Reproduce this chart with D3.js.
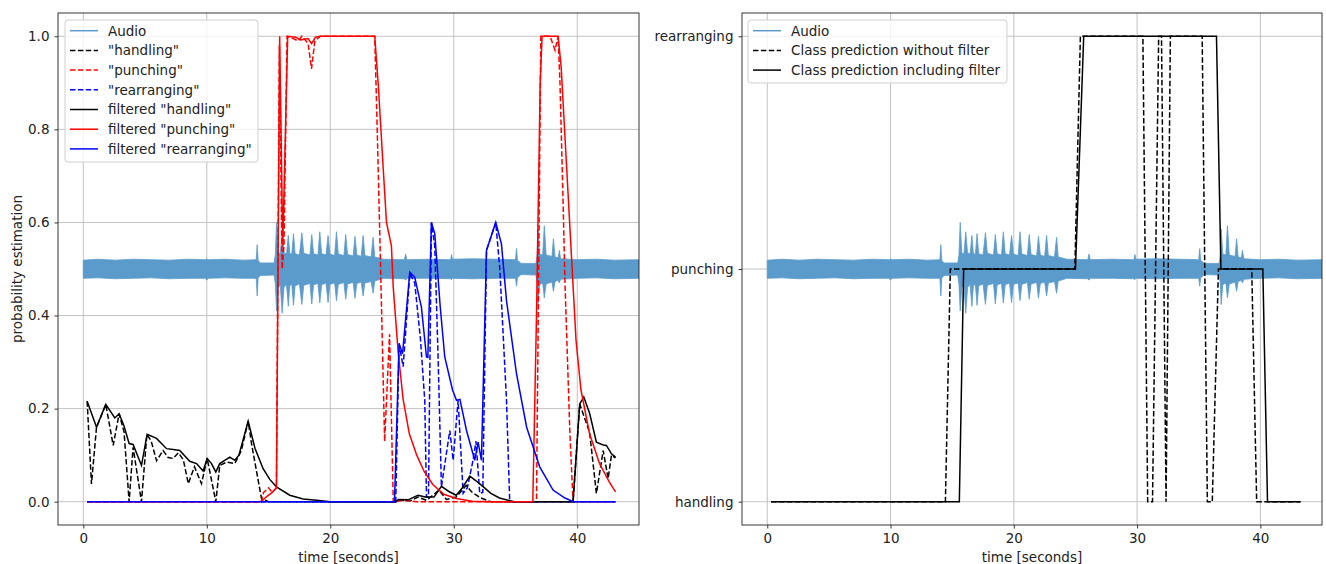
<!DOCTYPE html>
<html>
<head>
<meta charset="utf-8">
<script src="https://cdn.jsdelivr.net/npm/d3@7"></script>
<style>
  body { margin: 0; background: #fff; }
  svg { display: block; font-family: "DejaVu Sans", sans-serif; }
  .axis text { font-family: "DejaVu Sans", sans-serif; font-size: 13.5px; fill: #222; }
  .axis path, .axis line { stroke: #222; stroke-width: 0.9; }
  .grid line { stroke: #bcbcbc; stroke-width: 0.9; }
  .axis-title { font-size: 13.5px; fill: #222; }
  .legend-item { font-size: 13.5px; fill: #222; }
</style>
</head>
<body>
<svg id="chart" width="1326" height="564"></svg>
<script>
// ---- data ----
// audio envelope: [time, upper offset, lower offset] around the centre line
const audioEnvelope = [
  [0.0, 0.019, -0.020], [1.2, 0.021, -0.019], [2.6, 0.019, -0.021], [4.0, 0.021, -0.020],
  [5.5, 0.020, -0.019], [7.0, 0.019, -0.021], [8.5, 0.021, -0.020], [9.9, 0.020, -0.020],
  [10.0, 0.022, -0.024], [10.1, 0.020, -0.020], [11.5, 0.021, -0.019], [13.0, 0.019, -0.020],
  [14.0, 0.020, -0.020], [14.08, 0.052, -0.058], [14.16, 0.018, -0.019], [14.35, 0.013, -0.014],
  [15.45, 0.013, -0.013], [15.55, 0.030, -0.032], [15.65, 0.100, -0.090], [15.78, 0.035, -0.040],
  [15.95, 0.032, -0.034], [16.10, 0.080, -0.095], [16.25, 0.035, -0.040], [16.45, 0.032, -0.033],
  [16.60, 0.072, -0.080], [16.72, 0.034, -0.036], [16.88, 0.031, -0.033], [17.02, 0.076, -0.078],
  [17.15, 0.033, -0.036], [17.50, 0.030, -0.032], [17.70, 0.078, -0.076], [17.85, 0.034, -0.035],
  [18.35, 0.030, -0.031], [18.50, 0.074, -0.075], [18.65, 0.033, -0.034], [19.00, 0.030, -0.031],
  [19.15, 0.080, -0.073], [19.30, 0.033, -0.034], [19.65, 0.030, -0.030], [19.82, 0.072, -0.072],
  [19.97, 0.032, -0.033], [20.35, 0.029, -0.030], [20.50, 0.080, -0.068], [20.65, 0.032, -0.033],
  [21.10, 0.029, -0.029], [21.25, 0.074, -0.065], [21.40, 0.031, -0.032], [21.85, 0.028, -0.029],
  [22.00, 0.070, -0.063], [22.15, 0.030, -0.031], [22.50, 0.027, -0.028], [22.66, 0.072, -0.058],
  [22.80, 0.029, -0.030], [23.30, 0.026, -0.027], [23.47, 0.068, -0.052], [23.60, 0.026, -0.026],
  [24.3, 0.021, -0.020], [26.00, 0.020, -0.021], [26.10, 0.032, -0.024], [26.20, 0.020, -0.020],
  [28.0, 0.021, -0.020], [29.75, 0.020, -0.021], [29.82, 0.031, -0.023], [29.90, 0.021, -0.020],
  [31.5, 0.022, -0.021], [33.5, 0.021, -0.020], [35.00, 0.020, -0.020], [35.08, 0.044, -0.037],
  [35.16, 0.019, -0.019], [35.45, 0.012, -0.012], [36.65, 0.012, -0.013], [36.75, 0.030, -0.030],
  [36.82, 0.086, -0.076], [36.95, 0.032, -0.034], [37.20, 0.030, -0.030], [37.33, 0.093, -0.062],
  [37.48, 0.030, -0.032], [37.95, 0.027, -0.028], [38.07, 0.065, -0.048], [38.20, 0.026, -0.027],
  [38.45, 0.024, -0.024], [38.55, 0.040, -0.030], [38.65, 0.022, -0.022], [40.0, 0.020, -0.020],
  [41.5, 0.021, -0.019], [43.0, 0.019, -0.021], [45.0, 0.020, -0.020]
];

const rawHandling = [
  [0.31, 0.216], [0.66, 0.038], [1.07, 0.16], [1.82, 0.209], [2.42, 0.121], [2.9, 0.189],
  [3.3, 0.15], [3.71, 0.0], [4.03, 0.117], [4.71, 0.0], [5.15, 0.145], [5.5, 0.13],
  [5.93, 0.088], [6.46, 0.11], [6.87, 0.095], [7.27, 0.093], [7.7, 0.105], [8.1, 0.09],
  [8.5, 0.039], [9.0, 0.075], [9.57, 0.039], [10.03, 0.093], [10.73, 0.0], [11.05, 0.078],
  [11.6, 0.085], [12.27, 0.082], [12.8, 0.11], [13.35, 0.173], [13.62, 0.125], [14.16, 0.046],
  [14.43, 0.007], [15.0, 0.0], [25.3, 0.0], [25.6, 0.004], [26.5, 0.002], [27.1, 0.01],
  [27.8, 0.003], [28.8, 0.025], [29.4, 0.005], [30.2, 0.01], [31.0, 0.035], [31.5, 0.02],
  [32.2, 0.008], [33.0, 0.0], [39.66, 0.0], [40.2, 0.21], [41.0, 0.149], [41.55, 0.018],
  [42.1, 0.11], [42.5, 0.05], [42.77, 0.1], [43.1, 0.094]
];

const rawPunching = [
  [0.31, 0], [14.4, 0], [14.6, 0.02], [15.0, 0.03], [15.3, 0.02], [15.64, 0.03],
  [15.88, 0.98], [16.1, 0.5], [16.25, 0.55], [16.5, 1.0], [17.0, 0.995], [17.4, 0.99],
  [17.7, 1.0], [18.2, 0.985], [18.48, 0.93], [18.75, 0.99], [19.2, 1.0], [23.6, 1.0],
  [23.8, 0.8], [24.05, 0.53], [24.4, 0.13], [24.8, 0.36], [25.1, 0.0], [26.0, 0.003],
  [27.0, 0.0], [36.7, 0], [37.05, 1.0], [37.8, 1.0], [38.2, 0.97], [38.45, 1.0],
  [38.6, 0.9], [38.85, 0.647], [39.0, 0.475], [39.4, 0.15], [39.66, 0.0], [43.1, 0]
];

const rawRearranging = [
  [0.31, 0], [25.3, 0], [25.57, 0.34], [25.9, 0.29], [26.44, 0.49], [26.84, 0.47],
  [27.3, 0.35], [27.65, 0.218], [27.79, 0.01], [27.95, 0.01], [28.19, 0.6], [28.46, 0.55],
  [28.73, 0.311], [29.0, 0.032], [29.68, 0.153], [29.95, 0.089], [30.35, 0.218], [30.76, 0.018],
  [31.1, 0.03], [31.56, 0.089], [31.8, 0.13], [32.1, 0.018], [32.35, 0.02], [32.65, 0.54],
  [33.4, 0.6], [33.73, 0.5], [34.27, 0.218], [34.53, 0.0], [43.1, 0]
];

const filtHandling = [
  [0.31, 0.216], [1.07, 0.16], [1.82, 0.209], [2.55, 0.18], [2.9, 0.189], [3.28, 0.164],
  [3.71, 0.125], [4.03, 0.123], [4.71, 0.078], [5.17, 0.145], [5.93, 0.136], [6.74, 0.114],
  [7.28, 0.112], [7.81, 0.11], [8.62, 0.087], [9.17, 0.082], [9.7, 0.066], [10.03, 0.093],
  [10.38, 0.082], [10.73, 0.064], [11.05, 0.082], [11.86, 0.096], [12.27, 0.089], [12.6, 0.1],
  [13.35, 0.173], [13.9, 0.115], [14.56, 0.071], [15.1, 0.048], [15.64, 0.032], [16.72, 0.014],
  [17.8, 0.006], [18.9, 0.003], [20.0, 0], [25.3, 0], [25.5, 0.005], [26.3, 0.004],
  [27.1, 0.014], [27.7, 0.01], [28.4, 0.01], [29.0, 0.033], [29.6, 0.022], [30.2, 0.014],
  [30.7, 0.03], [31.3, 0.055], [31.8, 0.045], [32.4, 0.032], [33.0, 0.018], [33.7, 0.008],
  [34.9, 0], [39.66, 0], [40.2, 0.21], [40.53, 0.225], [41.0, 0.19], [41.55, 0.128],
  [42.1, 0.122], [42.36, 0.121], [42.77, 0.103], [43.1, 0.096]
];

const filtPunching = [
  [0.31, 0], [14.4, 0], [14.8, 0.01], [15.3, 0.02], [15.64, 0.03], [15.9, 1.0],
  [16.15, 0.55], [16.55, 1.0], [17.2, 0.998], [17.6, 0.992], [18.2, 0.995], [18.48, 0.984],
  [18.8, 0.998], [19.2, 1.0], [23.6, 1.0], [23.9, 0.89], [24.3, 0.71], [24.55, 0.6],
  [24.95, 0.55], [25.1, 0.46], [25.5, 0.32], [25.9, 0.22], [26.4, 0.146], [27.0, 0.1],
  [27.6, 0.065], [28.3, 0.037], [29.2, 0.016], [30.2, 0.007], [31.5, 0.001], [33.0, 0],
  [36.4, 0], [36.7, 0.4], [37.0, 0.9], [37.15, 1.0], [38.45, 1.0], [38.7, 0.933],
  [39.26, 0.66], [39.9, 0.347], [40.3, 0.24], [41.0, 0.146], [41.8, 0.082], [42.6, 0.042],
  [43.1, 0.021]
];

const filtRearranging = [
  [0.31, 0], [25.2, 0], [25.57, 0.34], [25.85, 0.318], [26.44, 0.493], [26.84, 0.482],
  [27.38, 0.418], [27.79, 0.311], [27.9, 0.31], [28.19, 0.6], [28.46, 0.576], [28.9, 0.42],
  [29.27, 0.311], [29.9, 0.24], [30.22, 0.218], [30.5, 0.22], [31.03, 0.153], [31.7, 0.089],
  [31.97, 0.128], [32.24, 0.089], [32.65, 0.54], [33.4, 0.6], [33.86, 0.554], [34.27, 0.432],
  [35.08, 0.275], [35.9, 0.16], [36.96, 0.075], [38.04, 0.025], [39.0, 0.008], [39.7, 0],
  [43.1, 0]
];

// class index: 0 handling, 1 punching, 2 rearranging
const classNames = ["handling", "punching", "rearranging"];
const classRaw = [
  [0.31, 0], [14.45, 0], [14.85, 1], [24.95, 1], [25.4, 2], [30.47, 2], [30.86, 0],
  [31.25, 0], [31.75, 2], [31.98, 2], [32.35, 0], [32.7, 2], [35.28, 2], [35.7, 0],
  [36.1, 0], [36.6, 1], [39.3, 1], [39.7, 0], [43.26, 0]
];
const classFiltered = [
  [0.31, 0], [15.58, 0], [15.93, 1], [25.0, 1], [25.67, 2], [36.44, 2], [36.8, 1],
  [40.2, 1], [40.58, 0], [43.26, 0]
];

const timeTicks = [0, 10, 20, 30, 40];
const probTicks = [0, 0.2, 0.4, 0.6, 0.8, 1.0];
const classTicks = [0, 1, 2];

const leftLegendLabels = ["Audio", "\"handling\"", "\"punching\"", "\"rearranging\"",
  "filtered \"handling\"", "filtered \"punching\"", "filtered \"rearranging\""];
const rightLegendLabels = ["Audio", "Class prediction without filter", "Class prediction including filter"];

// ---- drawing ----
const audioColor = "#5b9bcb";
const dash = "5.5,2.4";
const svg = d3.select("#chart");

function makePanel(box, yDomain, yTicks, yFormat, clipId) {
  const x = d3.scaleLinear().domain([-2.05, 45.0]).range([box.left, box.right]);
  const y = d3.scaleLinear().domain(yDomain).range([box.bottom, box.top]);

  svg.append("defs").append("clipPath").attr("id", clipId)
    .append("rect")
    .attr("x", box.left).attr("y", box.top)
    .attr("width", box.right - box.left).attr("height", box.bottom - box.top);

  // grid
  const grid = svg.append("g").attr("class", "grid");
  grid.selectAll("vx").data(timeTicks).enter().append("line")
    .attr("x1", d => x(d)).attr("x2", d => x(d))
    .attr("y1", box.top).attr("y2", box.bottom);
  grid.selectAll("hy").data(yTicks).enter().append("line")
    .attr("x1", box.left).attr("x2", box.right)
    .attr("y1", d => y(d)).attr("y2", d => y(d));

  const plot = svg.append("g").attr("clip-path", "url(#" + clipId + ")");

  // axes
  svg.append("g")
    .attr("class", "axis")
    .attr("transform", "translate(0," + box.bottom + ")")
    .call(d3.axisBottom(x).tickValues(timeTicks).tickSize(3.5).tickPadding(5).tickFormat(d3.format("d")))
    .call(g => g.select(".domain").remove());
  svg.append("g")
    .attr("class", "axis")
    .attr("transform", "translate(" + box.left + ",0)")
    .call(d3.axisLeft(y).tickValues(yTicks).tickSize(3.5).tickPadding(5).tickFormat(yFormat))
    .call(g => g.select(".domain").remove());

  return { x, y, plot };
}

function frame(box) {
  svg.append("rect")
    .attr("x", box.left).attr("y", box.top)
    .attr("width", box.right - box.left).attr("height", box.bottom - box.top)
    .attr("fill", "none").attr("stroke", "#222").attr("stroke-width", 0.9);
}

function drawAudio(p, centre, k) {
  const area = d3.area()
    .x(d => p.x(d[0]))
    .y0(d => p.y(centre + k * d[2]))
    .y1(d => p.y(centre + k * d[1]));
  p.plot.append("path")
    .datum(audioEnvelope)
    .attr("d", area)
    .attr("fill", audioColor)
    .attr("stroke", audioColor)
    .attr("stroke-width", 0.8);
}

function drawLine(p, data, color, dashed) {
  const line = d3.line().x(d => p.x(d[0])).y(d => p.y(d[1]));
  p.plot.append("path")
    .datum(data)
    .attr("d", line)
    .attr("fill", "none")
    .attr("stroke", color)
    .attr("stroke-width", 1.5)
    .attr("stroke-dasharray", dashed ? dash : null);
}

function legend(box, labels, styles) {
  const g = svg.append("g");
  g.append("rect")
    .attr("x", box.x).attr("y", box.y)
    .attr("width", box.w).attr("height", box.h)
    .attr("rx", 3)
    .attr("fill", "#fff").attr("fill-opacity", 0.8)
    .attr("stroke", "#d0d0d0").attr("stroke-width", 1);
  g.selectAll("ll").data(labels).enter().append("line")
    .attr("x1", box.x + 5).attr("x2", box.x + 33)
    .attr("y1", (d, i) => box.y + 10.7 + i * 19.7)
    .attr("y2", (d, i) => box.y + 10.7 + i * 19.7)
    .attr("stroke", (d, i) => styles[i].color)
    .attr("stroke-width", 1.5)
    .attr("stroke-dasharray", (d, i) => styles[i].dashed ? dash : null);
  g.selectAll("lt").data(labels).enter().append("text")
    .attr("class", "legend-item")
    .attr("x", box.x + 43)
    .attr("y", (d, i) => box.y + 10.7 + i * 19.7)
    .attr("dy", "0.36em")
    .text(d => d);
}

// left panel: probabilities
const leftBox = { left: 58, right: 639, top: 13, bottom: 525 };
const left = makePanel(leftBox, [-0.05, 1.05], probTicks, d3.format(".1f"), "clipLeft");
drawAudio(left, 0.5, 1);
drawLine(left, rawHandling, "#000", true);
drawLine(left, rawPunching, "#ff0000", true);
drawLine(left, rawRearranging, "#0000ff", true);
drawLine(left, filtHandling, "#000", false);
drawLine(left, filtPunching, "#ff0000", false);
drawLine(left, filtRearranging, "#0000ff", false);
frame(leftBox);

svg.append("text")
  .attr("class", "axis-title")
  .attr("transform", "translate(22," + (leftBox.top + leftBox.bottom) / 2 + ") rotate(-90)")
  .attr("text-anchor", "middle")
  .text("probability estimation");
svg.append("text")
  .attr("class", "axis-title")
  .attr("x", (leftBox.left + leftBox.right) / 2).attr("y", 562)
  .attr("text-anchor", "middle")
  .text("time [seconds]");

legend({ x: 65, y: 20, w: 193, h: 142 }, leftLegendLabels, [
  { color: audioColor }, { color: "#000", dashed: true }, { color: "#ff0000", dashed: true },
  { color: "#0000ff", dashed: true }, { color: "#000" }, { color: "#ff0000" }, { color: "#0000ff" }
]);

// right panel: class predictions
const rightBox = { left: 742, right: 1322, top: 13, bottom: 525 };
const right = makePanel(rightBox, [-0.1, 2.1], classTicks, d => classNames[d], "clipRight");
drawAudio(right, 1, 2);
drawLine(right, classRaw, "#000", true);
drawLine(right, classFiltered, "#000", false);
frame(rightBox);

svg.append("text")
  .attr("class", "axis-title")
  .attr("x", (rightBox.left + rightBox.right) / 2).attr("y", 562)
  .attr("text-anchor", "middle")
  .text("time [seconds]");

legend({ x: 748, y: 20, w: 259, h: 63 }, rightLegendLabels, [
  { color: audioColor }, { color: "#000", dashed: true }, { color: "#000" }
]);
</script>
</body>
</html>
